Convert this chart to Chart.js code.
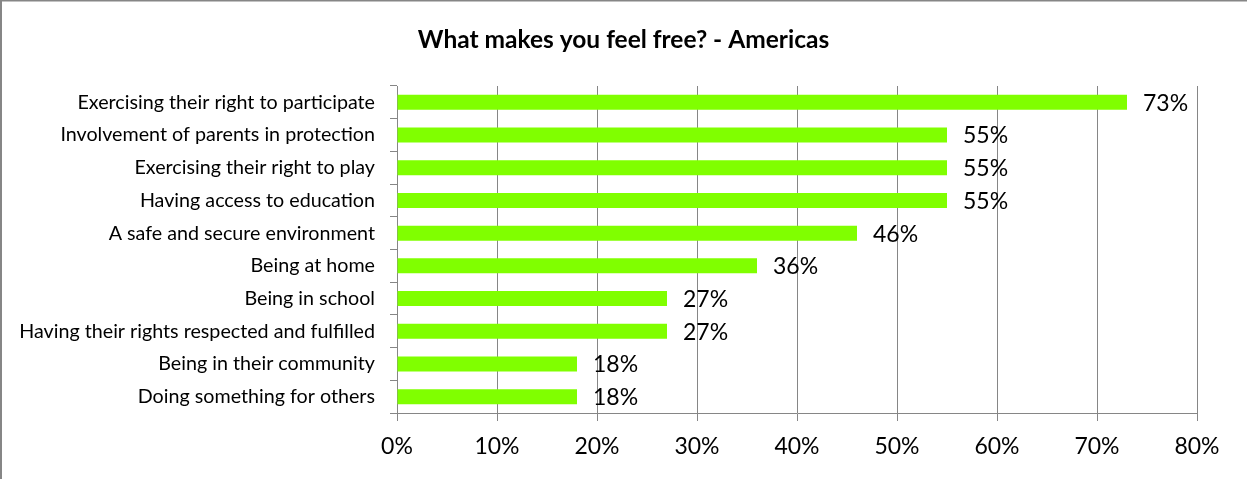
<!DOCTYPE html>
<html>
<head>
<meta charset="utf-8">
<script src="https://cdn.jsdelivr.net/npm/chart.js@4/dist/chart.umd.min.js"></script>
<style>
  html, body { margin: 0; padding: 0; background: #fff; }
  #wrap { width: 1247px; height: 479px; position: relative; }
</style>
</head>
<body>
<div id="wrap"><canvas id="myChart" width="1247" height="479"></canvas></div>
<script>
'use strict';

const chartTitle = 'What makes you feel free? - Americas';
const categories = [
  'Exercising their right to participate',
  'Involvement of parents in protection',
  'Exercising their right to play',
  'Having access to education',
  'A safe and secure environment',
  'Being at home',
  'Being in school',
  'Having their rights respected and fulfilled',
  'Being in their community',
  'Doing something for others',
];
const percentages = [73, 55, 55, 55, 46, 36, 27, 27, 18, 18];
const tickValues = [0, 10, 20, 30, 40, 50, 60, 70, 80];

const fontFamily = 'Lato, "Open Sans", sans-serif';
const lineGrey = '#868686';

// frame, title and the value labels next to each bar
const decorations = {
  id: 'decorations',
  beforeDraw(chart) {
    const ctx = chart.ctx;
    ctx.save();
    ctx.fillStyle = '#fff';
    ctx.fillRect(0, 0, chart.width, chart.height);
    ctx.fillStyle = lineGrey;
    ctx.fillRect(0, 0, 2, chart.height);
    ctx.fillRect(0, 0, chart.width, 1.5);
    ctx.restore();
  },
  afterDraw(chart) {
    const ctx = chart.ctx;
    ctx.save();
    ctx.fillStyle = '#000';
    ctx.font = 'bold 24.5px ' + fontFamily;
    ctx.textAlign = 'center';
    ctx.textBaseline = 'middle';
    ctx.fillText(chartTitle, 623.5, 40);

    ctx.font = '23px ' + fontFamily;
    ctx.textAlign = 'left';
    const meta = chart.getDatasetMeta(0);
    meta.data.forEach((bar, i) => {
      ctx.fillText(percentages[i] + '%', bar.x + 16, bar.y + 1);
    });
    ctx.restore();
  }
};

const config = {
  type: 'bar',
  data: {
    labels: categories,
    datasets: [{
      label: 'Americas',
      data: percentages,
      backgroundColor: '#80ff00',
      borderWidth: 0,
      barPercentage: 0.46,
      categoryPercentage: 1,
    }]
  },
  options: {
    indexAxis: 'y',
    responsive: false,
    animation: false,
    layout: { padding: { top: 86, right: 50, bottom: 0, left: 0 } },
    plugins: {
      legend: { display: false },
      title: { display: false },
      tooltip: { enabled: false },
    },
    scales: {
      x: {
        min: 0,
        max: 80,
        afterBuildTicks(scale) {
          scale.ticks = tickValues.map(v => ({ value: v }));
        },
        afterFit(scale) { scale.height = 66; },
        ticks: {
          color: '#000',
          padding: 12,
          maxRotation: 0,
          font: { family: fontFamily, size: 23 },
          callback: (v) => v + '%',
        },
        grid: { color: lineGrey, lineWidth: 1, tickLength: 8, drawTicks: true },
        border: { color: lineGrey, width: 1 },
      },
      y: {
        afterFit(scale) { scale.width = 397; },
        ticks: {
          color: '#000',
          padding: 15,
          font: { family: fontFamily, size: 19.7 },
        },
        grid: { drawOnChartArea: false, color: lineGrey, tickLength: 7, offset: true },
        border: { color: lineGrey, width: 1 },
      }
    }
  },
  plugins: [decorations]
};

const myChart = new Chart(document.getElementById('myChart'), config);
</script>
</body>
</html>
